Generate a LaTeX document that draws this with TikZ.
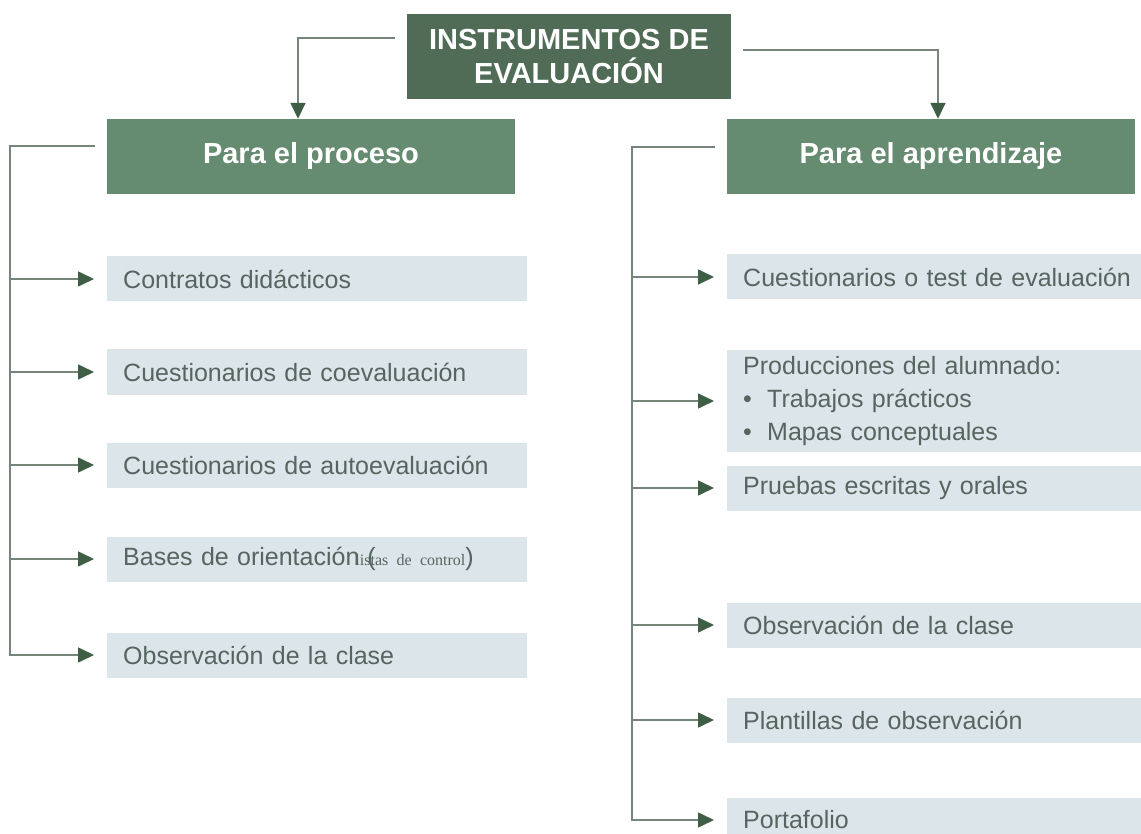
\documentclass[tikz,border=0pt]{standalone}
\usepackage{fontspec}
\setmainfont{Liberation Sans}
\newfontfamily\smallserif{Liberation Serif}
\usetikzlibrary{arrows.meta}

\definecolor{titlegreen}{HTML}{506C56}
\definecolor{headgreen}{HTML}{658B70}
\definecolor{itemfill}{HTML}{DCE5EA}
\definecolor{itemtext}{HTML}{56655F}
\definecolor{linegrey}{HTML}{74857A}
\definecolor{tipgreen}{HTML}{3E5E46}

\tikzset{
  titlebox/.style={fill=titlegreen, text=white, font=\bfseries\fontsize{29}{34}\selectfont,
    minimum width=324pt, minimum height=85pt, align=center, inner sep=0pt},
  headbox/.style={fill=headgreen, text=white, font=\bfseries\fontsize{29}{34}\selectfont,
    minimum width=408pt, minimum height=75pt, inner sep=0pt},
  itembox/.style={fill=itemfill, text=itemtext, font=\fontsize{25}{33}\selectfont, anchor=west,
    minimum height=45pt, inner xsep=16pt, inner ysep=6pt, text width=#1, align=left},
  link/.style={draw=linegrey, line width=1.6pt},
  tolink/.style={link, -{Triangle[length=16pt,width=15pt,color=tipgreen]}, shorten >=13pt}
}

\begin{document}
\begin{tikzpicture}[x=1pt,y=-1pt]
      \fill[white] (0,0) rectangle (1141,834);
      \useasboundingbox (0,0) rectangle (1141,834);
      % top of the tree
      \node[titlebox] (title) at (569,56.5) {INSTRUMENTOS DE\\EVALUACIÓN};
      \node[headbox] (proceso) at (311,156.5) {Para el proceso};
      \node[headbox] (aprend) at (931,156.5) {Para el aprendizaje};
      \draw[tolink, shorten >=0pt] ([xshift=-12pt,yshift=18.5pt]title.west) -| ([xshift=-13pt]proceso.north);
      \draw[tolink, shorten >=0pt] ([xshift=12pt,yshift=6.5pt]title.east) -| ([xshift=7pt]aprend.north);
      % left column
      \foreach \n/\y/\t in {c1/279/Contratos didácticos,
                            c2/372/Cuestionarios de coevaluación,
                            c3/465/Cuestionarios de autoevaluación,
                            c4/559/{Bases de orientación\rlap{\kern8pt(}\kern-4pt{\smallserif\fontsize{16}{16}\selectfont listas de control})},
                            c5/655/Observación de la clase} {
        \node[itembox=388pt] (\n) at (107,\y) {\t};
      }
      \coordinate (lspine) at (10,146);
      \draw[tolink] ([xshift=-12pt,yshift=10.5pt]proceso.west) -- (lspine) |- (c5.west);
      \foreach \n in {c1,c2,c3,c4} {
        \draw[tolink] (lspine |- \n.west) -- (\n.west);
      }
      % right column
      \foreach \n/\y/\t in {r1/277/Cuestionarios o test de evaluación,
                            r2/401/{Producciones del alumnado:\\\makebox[24pt][l]{•}Trabajos prácticos\\\makebox[24pt][l]{•}Mapas conceptuales},
                            r3/488/Pruebas escritas y orales,
                            r4/625/Observación de la clase,
                            r5/720/Plantillas de observación,
                            r6/820/Portafolio} {
        \node[itembox=400pt] (\n) at (727,\y) {\t};
      }
      \coordinate (rspine) at (632,147);
      \draw[tolink] ([xshift=-12pt,yshift=9.5pt]aprend.west) -- (rspine) |- (r6.west);
      \foreach \n in {r1,r2,r3,r4,r5} {
        \draw[tolink] (rspine |- \n.west) -- (\n.west);
      }
\end{tikzpicture}
\end{document}
